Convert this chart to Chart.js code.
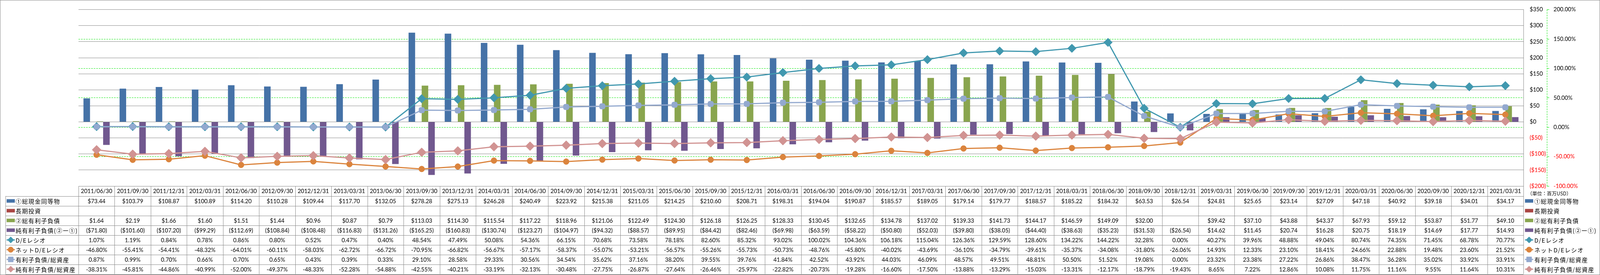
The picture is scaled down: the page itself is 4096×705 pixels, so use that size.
<!DOCTYPE html>
<html>
<head>
<meta charset="utf-8">
<script src="https://cdn.jsdelivr.net/npm/chart.js@4.4.0/dist/chart.umd.min.js"></script>
<style>
  html, body { margin: 0; padding: 0; background: #fff; overflow: hidden; }
  canvas { display: block; }
</style>
</head>
<body>
<canvas id="c" width="4096" height="705"></canvas>
<script>
// 決算期
const categories = ['2011/06/30', '2011/09/30', '2011/12/31', '2012/03/31', '2012/06/30', '2012/09/30', '2012/12/31', '2013/03/31', '2013/06/30', '2013/09/30',
  '2013/12/31', '2014/03/31', '2014/06/30', '2014/09/30', '2014/12/31', '2015/03/31', '2015/06/30', '2015/09/30', '2015/12/31', '2016/03/31',
  '2016/06/30', '2016/09/30', '2016/12/31', '2017/03/31', '2017/06/30', '2017/09/30', '2017/12/31', '2018/03/31', '2018/06/30', '2018/09/30',
  '2018/12/31', '2019/03/31', '2019/06/30', '2019/09/30', '2019/12/31', '2020/03/31', '2020/06/30', '2020/09/30', '2020/12/31', '2021/03/31'];

// 金額 (百万USD)
const cashEquivalents = [73.44, 103.79, 108.87, 100.89, 114.20, 110.28, 109.44, 117.70, 132.05, 278.28,
  275.13, 246.28, 240.49, 223.92, 215.38, 211.05, 214.25, 210.60, 208.71, 198.31,
  194.04, 190.87, 185.57, 189.05, 179.14, 179.77, 188.57, 185.22, 184.32, 63.53,
  26.54, 24.81, 25.65, 23.14, 27.09, 47.18, 40.92, 39.18, 34.01, 34.17];
const longTermInvest = [null, null, null, null, null, null, null, null, null, null,
  null, null, null, null, null, null, null, null, null, null,
  null, null, null, null, null, null, null, null, null, null,
  null, null, null, null, null, null, null, null, null, null];
const totalDebt = [1.64, 2.19, 1.66, 1.60, 1.51, 1.44, 0.96, 0.87, 0.79, 113.03,
  114.30, 115.54, 117.22, 118.96, 121.06, 122.49, 124.30, 126.18, 126.25, 128.33,
  130.45, 132.65, 134.78, 137.02, 139.33, 141.73, 144.17, 146.59, 149.09, 32.00,
  null, 39.42, 37.10, 43.88, 43.37, 67.93, 59.12, 53.87, 51.77, 49.10];
const netDebt = [-71.80, -101.60, -107.20, -99.29, -112.69, -108.84, -108.48, -116.83, -131.26, -165.25,
  -160.83, -130.74, -123.27, -104.97, -94.32, -88.57, -89.95, -84.42, -82.46, -69.98,
  -63.59, -58.22, -50.80, -52.03, -39.80, -38.05, -44.40, -38.63, -35.23, -31.53,
  -26.54, 14.62, 11.45, 20.74, 16.28, 20.75, 18.19, 14.69, 17.77, 14.93];

// 比率 (%)
const deRatio = [1.07, 1.19, 0.84, 0.78, 0.86, 0.80, 0.52, 0.47, 0.40, 48.54,
  47.49, 50.08, 54.36, 66.15, 70.68, 73.58, 78.18, 82.60, 85.32, 93.02,
  100.02, 104.36, 106.18, 115.04, 126.36, 129.59, 128.60, 134.22, 144.22, 32.28,
  0.00, 40.27, 39.96, 48.88, 49.04, 80.74, 74.35, 71.45, 68.78, 70.77];
const netDeRatio = [-46.80, -55.41, -54.41, -48.32, -64.01, -60.11, -58.03, -62.72, -66.72, -70.95,
  -66.82, -56.67, -57.17, -58.37, -55.07, -53.21, -56.57, -55.26, -55.73, -50.73,
  -48.76, -45.80, -40.02, -43.69, -36.10, -34.79, -39.61, -35.37, -34.08, -31.80,
  -26.06, 14.93, 12.33, 23.10, 18.41, 24.66, 22.88, 19.48, 23.60, 21.52];
const debtToAssets = [0.87, 0.99, 0.70, 0.66, 0.70, 0.65, 0.43, 0.39, 0.33, 29.10,
  28.58, 29.33, 30.56, 34.54, 35.62, 37.16, 38.20, 39.55, 39.76, 41.84,
  42.52, 43.92, 44.03, 46.09, 48.57, 49.51, 48.81, 50.50, 51.52, 19.08,
  0.00, 23.32, 23.38, 27.22, 26.86, 38.47, 36.28, 35.02, 33.92, 33.91];
const netDebtToAssets = [-38.31, -45.81, -44.86, -40.99, -52.00, -49.37, -48.33, -52.28, -54.88, -42.55,
  -40.21, -33.19, -32.13, -30.48, -27.75, -26.87, -27.64, -26.46, -25.97, -22.82,
  -20.73, -19.28, -16.60, -17.50, -13.88, -13.29, -15.03, -13.31, -12.17, -18.79,
  -19.43, 8.65, 7.22, 12.86, 10.08, 11.75, 11.16, 9.55, 11.64, 10.31];

// 目盛り
const usdTicks = [-200, -150, -100, -50, 0, 50, 100, 150, 200, 250, 300, 350];
const pctTicks = [-100, -50, 0, 50, 100, 150, 200];

const GRID = '#888888';
const GREEN = '#00e600';
const NUM_FONT = '14.5px Lato, "Liberation Sans", sans-serif';
const JP_FONT = '15px "Noto Sans CJK JP", sans-serif';

function fmtUsd(v) {
  if (v === null || v === undefined) return '';
  return v < 0 ? '($' + (-v).toFixed(2) + ')' : '$' + v.toFixed(2);
}
function fmtPct(v) {
  if (v === null || v === undefined) return '';
  return v.toFixed(2) + '%';
}

function drawMarker(ctx, style, x, y, r, color) {
  ctx.fillStyle = color;
  ctx.strokeStyle = color;
  ctx.lineWidth = 1;
  ctx.beginPath();
  if (style === 'circle') {
    ctx.arc(x, y, r, 0, Math.PI * 2);
  } else if (style === 'rectRot') {
    ctx.moveTo(x, y - r); ctx.lineTo(x + r, y); ctx.lineTo(x, y + r); ctx.lineTo(x - r, y); ctx.closePath();
  } else {
    ctx.rect(x - r, y - r, 2 * r, 2 * r);
  }
  ctx.fill();
  ctx.stroke();
}

// 凡例キー (棒 or 線+マーカー)
function drawKey(ctx, ds, x, cy) {
  if (ds.type === 'line') {
    ctx.strokeStyle = ds.borderColor;
    ctx.lineWidth = 3;
    ctx.beginPath();
    ctx.moveTo(x, cy); ctx.lineTo(x + 21, cy);
    ctx.stroke();
    const r = ds.pointStyle === 'rectRot' ? 8 : (ds.pointStyle === 'circle' ? 7 : 6.5);
    drawMarker(ctx, ds.pointStyle, x + 10.5, cy, r, ds.borderColor);
  } else {
    ctx.fillStyle = ds.backgroundColor;
    ctx.fillRect(x, cy - 4.5, 21, 9);
  }
}

const bgPlugin = {
  id: 'bg',
  beforeDraw(chart) {
    const ctx = chart.ctx;
    ctx.save();
    ctx.fillStyle = '#fff';
    ctx.fillRect(0, 0, chart.width, chart.height);
    ctx.restore();
  }
};

// データテーブル・凡例・単位
const tablePlugin = {
  id: 'dataTable',
  afterDraw(chart) {
    const ctx = chart.ctx;
    const a = chart.chartArea;
    const xs = chart.scales.x;
    const n = categories.length;
    const colW = a.width / n;
    const headTop = a.bottom;
    const headBot = headTop + 25.6;
    const rowH = 25;
    const dsets = chart.data.datasets;
    const tLeft = 14;
    const tBottom = headBot + rowH * dsets.length;
    const px = v => Math.round(v) + 0.5;

    ctx.save();
    ctx.strokeStyle = GRID;
    ctx.lineWidth = 1;
    ctx.beginPath();
    ctx.moveTo(a.left, px(headTop)); ctx.lineTo(a.right, px(headTop));
    for (let i = 0; i <= dsets.length; i++) {
      const y = px(headBot + rowH * i);
      ctx.moveTo(tLeft, y); ctx.lineTo(a.right, y);
    }
    ctx.moveTo(px(tLeft), headBot); ctx.lineTo(px(tLeft), tBottom);
    for (let j = 0; j <= n; j++) {
      const x = px(a.left + colW * j);
      ctx.moveTo(x, headTop); ctx.lineTo(x, tBottom);
    }
    ctx.stroke();

    ctx.fillStyle = '#000';
    ctx.font = NUM_FONT;
    ctx.textAlign = 'center';
    ctx.textBaseline = 'middle';
    categories.forEach((c, j) => {
      ctx.fillText(c, xs.getPixelForValue(j), (headTop + headBot) / 2 + 1);
    });

    dsets.forEach((ds, i) => {
      const cy = headBot + rowH * (i + 0.5);
      const fmt = ds.yAxisID === 'yL' ? fmtUsd : fmtPct;
      ctx.fillStyle = '#000';
      ctx.font = NUM_FONT;
      ctx.textAlign = 'center';
      ds.data.forEach((v, j) => {
        ctx.fillText(fmt(v), xs.getPixelForValue(j), cy + 1);
      });

      drawKey(ctx, ds, 17, cy);
      drawKey(ctx, ds, 3904, cy);
      ctx.fillStyle = '#000';
      ctx.font = JP_FONT;
      ctx.textAlign = 'left';
      ctx.letterSpacing = '1.3px';
      ctx.fillText(ds.label, 40, cy + 1);
      ctx.fillText(ds.label, 3928, cy + 1);
      ctx.letterSpacing = '0px';
    });

    // 単位
    ctx.font = '12.5px "Noto Sans CJK JP", sans-serif';
    ctx.textAlign = 'left';
    ctx.fillText('（単位：百万USD）', 3910, 496);

    // 右軸の線
    const yR = chart.scales.yR;
    ctx.strokeStyle = GREEN;
    ctx.setLineDash([4, 2.5]);
    ctx.beginPath();
    ctx.moveTo(px(yR.left), yR.top);
    ctx.lineTo(px(yR.left), yR.bottom);
    ctx.stroke();
    ctx.setLineDash([]);

    // 外枠
    ctx.strokeStyle = GRID;
    ctx.strokeRect(0.5, 0.5, chart.width - 1, chart.height - 1);
    ctx.restore();
  }
};

const lineBase = {
  type: 'line',
  yAxisID: 'yR',
  borderWidth: 3,
  tension: 0,
  pointBorderWidth: 1,
  borderJoinStyle: 'round',
  borderCapStyle: 'round'
};

document.fonts.load(NUM_FONT).then(() => document.fonts.load(JP_FONT)).catch(() => {}).then(() => {
  new Chart(document.getElementById('c'), {
    type: 'bar',
    data: {
      labels: categories,
      datasets: [
        { label: '①総現金同等物', data: cashEquivalents, backgroundColor: '#4572A7', yAxisID: 'yL', order: 10 },
        { label: '長期投資', data: longTermInvest, backgroundColor: '#AA4643', yAxisID: 'yL', order: 10 },
        { label: '②総有利子負債', data: totalDebt, backgroundColor: '#89A54E', yAxisID: 'yL', order: 10 },
        { label: '純有利子負債(②ー①)', data: netDebt, backgroundColor: '#71588F', yAxisID: 'yL', order: 10 },
        Object.assign({}, lineBase, { label: 'D/Eレシオ', data: deRatio, borderColor: '#4198AF', backgroundColor: '#4198AF',
          pointStyle: 'rectRot', pointRadius: 11, order: 4 }),
        Object.assign({}, lineBase, { label: 'ネットD/Eレシオ', data: netDeRatio, borderColor: '#DB843D', backgroundColor: '#DB843D',
          pointStyle: 'circle', pointRadius: 7.5, order: 3 }),
        Object.assign({}, lineBase, { label: '有利子負債/総資産', data: debtToAssets, borderColor: '#93A9CF', backgroundColor: '#93A9CF',
          pointStyle: 'rectRounded', pointRadius: 8.3, order: 2 }),
        Object.assign({}, lineBase, { label: '純有利子負債/総資産', data: netDebtToAssets, borderColor: '#D19392', backgroundColor: '#D19392',
          pointStyle: 'rectRot', pointRadius: 11.5, order: 1 })
      ]
    },
    options: {
      responsive: false,
      devicePixelRatio: 1,
      animation: false,
      layout: { padding: { left: 201, right: 0, top: 10, bottom: 228 } },
      datasets: { bar: { barPercentage: 1, categoryPercentage: 0.726 } },
      plugins: { legend: { display: false }, tooltip: { enabled: false } },
      scales: {
        x: { display: false, offset: true, grid: { display: false } },
        yL: {
          position: 'right', weight: 0, min: usdTicks[0], max: usdTicks[usdTicks.length - 1],
          afterBuildTicks: s => { s.ticks = usdTicks.map(v => ({ value: v })); },
          afterFit: s => { s.width = 60; },
          ticks: {
            padding: 16,
            font: { family: 'Lato', size: 14.5 },
            color: c => (c.tick && c.tick.value < 0 ? '#FF0000' : '#000'),
            callback: v => (v < 0 ? '($' + (-v) + ')' : '$' + v)
          },
          grid: { color: GRID, lineWidth: 1, drawTicks: false },
          border: { display: true, color: GRID, width: 1 }
        },
        yR: {
          position: 'right', weight: 1, min: pctTicks[0], max: pctTicks[pctTicks.length - 1],
          afterBuildTicks: s => { s.ticks = pctTicks.map(v => ({ value: v })); },
          afterFit: s => { s.width = 136; },
          ticks: {
            padding: 11,
            font: { family: 'Lato', size: 14.5 },
            color: c => (c.tick && c.tick.value < 0 ? '#FF0000' : '#000'),
            callback: v => v.toFixed(2) + '%'
          },
          grid: {
            color: c => (c.tick && (c.tick.value === 200 || c.tick.value === -100) ? 'rgba(0,0,0,0)' : GREEN),
            tickColor: GREEN, lineWidth: 1, drawTicks: true, tickLength: 6
          },
          border: { display: false, dash: [4, 2.5] }
        }
      }
    },
    plugins: [bgPlugin, tablePlugin]
  });
});
</script>
</body>
</html>
